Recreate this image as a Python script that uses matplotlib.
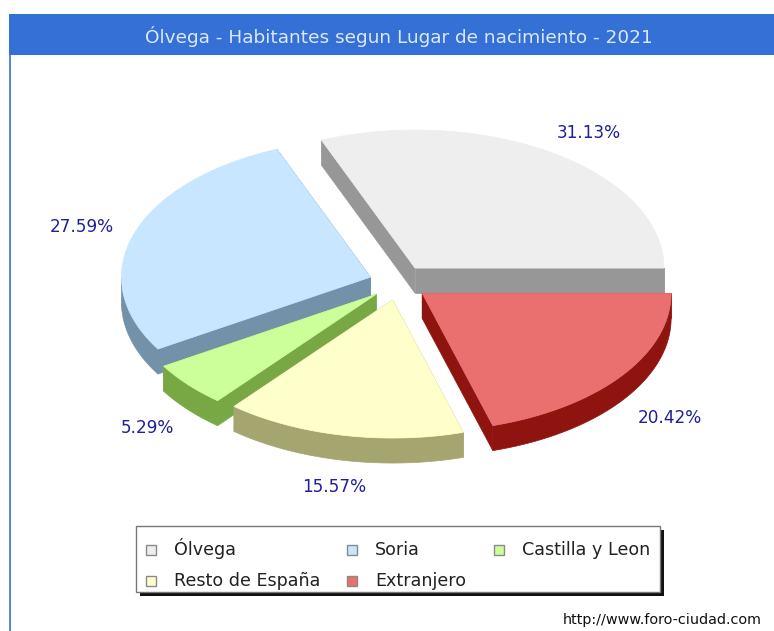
"""Ólvega population by birthplace, drawn as an exploded 3D-style pie."""

import matplotlib
matplotlib.use("Agg")
import matplotlib.pyplot as plt
import numpy as np
from matplotlib.patches import Rectangle

title = "Ólvega - Habitantes segun Lugar de nacimiento - 2021"
categories = ["Ólvega", "Soria", "Castilla y Leon", "Resto de España", "Extranjero"]
shares = [31.13, 27.59, 5.29, 15.57, 20.42]
top_colors = ["#EEEEEE", "#C8E6FF", "#CCFF99", "#FFFFCC", "#EA7070"]
side_colors = ["#979797", "#7391A8", "#78A843", "#A5A570", "#8F1410"]
credit = "http://www.foro-ciudad.com"

W, H = 774, 631
CX, CY = 398.5, 282.7
RX, RY = 249, 138
DEPTH = 25
EXPLODE_X, EXPLODE_Y = 29.5, 17.7
LABEL_COLOR = "#1F1F99"

plt.rcParams["font.family"] = ["DejaVu Sans"]

fig = plt.figure(figsize=(W / 100, H / 100), dpi=100)
ax = fig.add_axes([0, 0, 1, 1])
ax.set_xlim(0, W)
ax.set_ylim(H, 0)
ax.axis("off")

# Frame and title band
ax.add_patch(Rectangle((9, 14), W - 9, 41, facecolor="#3470D6", edgecolor="none"))
ax.plot([9.5, 9.5], [55, H], color="#3470D6", lw=1.2)
ax.text(399, 43, title, color="#DCE8FA", fontsize=13.3, ha="center", va="baseline")

# Slices go counter-clockwise from 3 o'clock, back to front
edges = np.concatenate([[0], np.cumsum(shares)]) * 3.6
for i, share in enumerate(shares):
    start, end = edges[i], edges[i + 1]
    mid = np.radians((start + end) / 2)
    ox = CX + EXPLODE_X * np.cos(mid)
    oy = CY - EXPLODE_Y * np.sin(mid)
    t = np.radians(np.linspace(start, end, 200))
    x = ox + RX * np.cos(t)
    y = oy - RY * np.sin(t)

    # radial walls
    for k in (0, -1):
        ax.fill([ox, x[k], x[k], ox], [oy, y[k], y[k] + DEPTH, oy + DEPTH],
                color=side_colors[i], lw=0.5, zorder=2 + i)
    # outer wall, only on the front half of the ellipse
    front = np.sin(t) <= 0
    if front.any():
        ax.fill(np.r_[x[front], x[front][::-1]],
                np.r_[y[front], y[front][::-1] + DEPTH],
                color=side_colors[i], lw=0.5, zorder=2 + i)
    ax.fill(np.r_[ox, x], np.r_[oy, y], color=top_colors[i], lw=0.5, zorder=2 + i)

    # percentage label sits outside the rim, pushed down by the depth in the lower half
    lx = CX + 2.5 + 1.35 * RX * np.cos(mid)
    ly = CY + 1 - 1.32 * RY * np.sin(mid) + (DEPTH if np.sin(mid) < 0 else 0)
    ax.text(lx, ly, f"{share:.2f}%", color=LABEL_COLOR, fontsize=12.2,
            ha="center", va="center", zorder=10)

# Legend box with hard shadow
ax.add_patch(Rectangle((139.5, 529.5), 524, 66, facecolor="#111111", edgecolor="none", zorder=11))
ax.add_patch(Rectangle((135.5, 526), 524, 66, facecolor="white", edgecolor="#777777", lw=1, zorder=12))
legend_slots = [(146, 550), (347, 550), (494, 550), (146, 581), (347, 581)]
for (lx, ly), name, color in zip(legend_slots, categories, top_colors):
    ax.add_patch(Rectangle((lx, ly - 5), 10, 10, facecolor=color, edgecolor="#8A8A8A", lw=1, zorder=13))
    ax.text(lx + 28, ly + 5, name, color="#222222", fontsize=12.6, ha="left", va="baseline", zorder=13)

ax.text(762, 624, credit, color="#111111", fontsize=10.4, ha="right", va="baseline")

fig.savefig("out.png", dpi=100, facecolor="white")
plt.close(fig)
